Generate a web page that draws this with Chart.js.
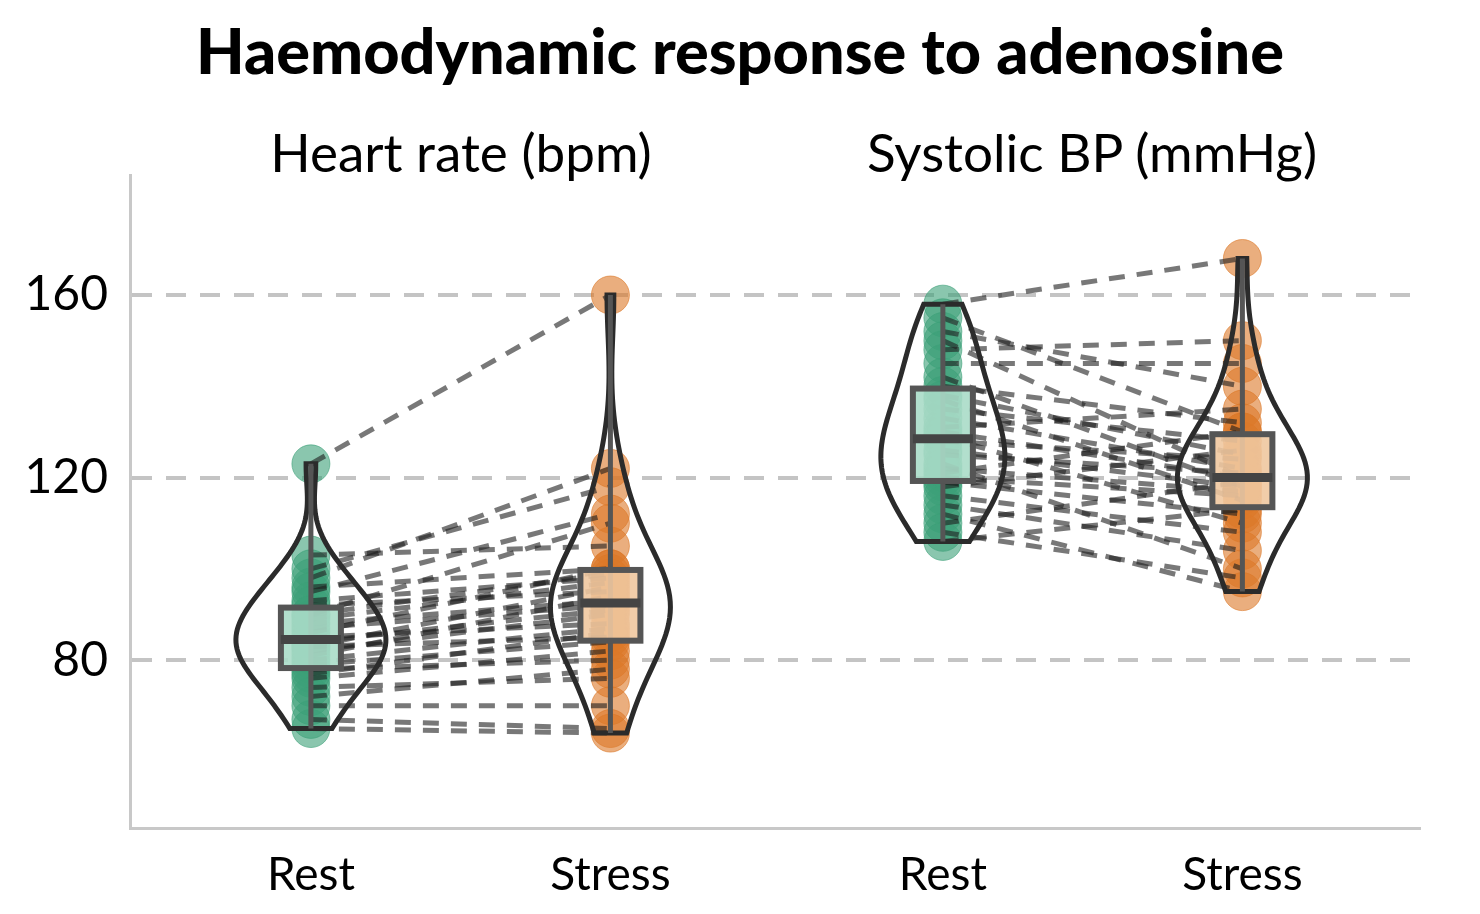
<!DOCTYPE html>
<html><head><meta charset="utf-8">
<script src="https://cdn.jsdelivr.net/npm/chart.js@4.4.1/dist/chart.umd.min.js"></script>
<style>
body{margin:0;background:#fff;font-family:Lato,'Open Sans',sans-serif}
#wrap{position:absolute;left:0;top:0;width:1480px;height:914px}
.t{position:absolute;white-space:nowrap;transform:translateX(-50%);color:#000}
</style></head><body>
<div id="wrap"><canvas id="c"></canvas></div>
<div class="t" style="left:740px;top:12px;font-size:63px;font-weight:900">Haemodynamic response to adenosine</div>
<div class="t" style="left:461px;top:120px;font-size:53px">Heart rate (bpm)</div>
<div class="t" style="left:1092px;top:120px;font-size:53px">Systolic BP (mmHg)</div>
<script>
// group positions on the x axis and their labels
const GROUP_X = [0, 1, 2.11, 3.11];
const GROUP_LABELS = ['Rest', 'Stress', 'Rest', 'Stress'];
const Y_TICKS = [80, 120, 160];

// paired measurements, one entry per patient
const hrRest   = [123,103,100,98,96,95,93,92,90,90,89,88,87,86,85,84,83,83,82,81,80,79,78,77,76,74,72,70,67,65];
const hrStress = [160,105,118,122,100,112,98,95,110,99,97,93,92,100,88,91,96,85,90,94,87,84,80,86,82,76,78,70,65,64];
const bpRest   = [158,155,152,150,148,145,142,140,138,137,135,133,131,130,129,128,126,125,123,121,120,119,118,116,114,112,110,108,106,122];
const bpStress = [168,130,140,120,150,145,118,132,125,115,128,122,135,120,110,124,118,121,100,130,116,112,126,108,104,95,119,98,113,117];

const GROUPS = [
  { x: GROUP_X[0], vals: hrRest,   half: 75, pt: 'rgba(60,160,120,0.6)', box: 'rgba(170,220,200,0.9)' },
  { x: GROUP_X[1], vals: hrStress, half: 60, pt: 'rgba(220,120,40,0.6)', box: 'rgba(240,200,160,0.9)' },
  { x: GROUP_X[2], vals: bpRest,   half: 62, pt: 'rgba(60,160,120,0.6)', box: 'rgba(170,220,200,0.9)' },
  { x: GROUP_X[3], vals: bpStress, half: 65, pt: 'rgba(220,120,40,0.6)', box: 'rgba(240,200,160,0.9)' },
];

const datasets = [];
GROUPS.forEach(g => datasets.push({
  type: 'scatter', data: g.vals.map(v => ({ x: g.x, y: v })),
  backgroundColor: g.pt, borderColor: g.pt, pointRadius: 19, order: 3,
}));
[[0, 1], [2, 3]].forEach(([a, b]) => {
  GROUPS[a].vals.forEach((v, i) => datasets.push({
    type: 'line', data: [{ x: GROUPS[a].x, y: v }, { x: GROUPS[b].x, y: GROUPS[b].vals[i] }],
    borderColor: 'rgba(30,30,30,0.6)', borderWidth: 5, borderDash: [16, 12],
    pointRadius: 0, fill: false, order: 1,
  }));
});

function quantile(arr, q) {
  const s = [...arr].sort((a, b) => a - b);
  const p = (s.length - 1) * q, lo = Math.floor(p);
  return s[lo] + (s[Math.min(lo + 1, s.length - 1)] - s[lo]) * (p - lo);
}

// violin (gaussian KDE, cut at data range) + box
const violinPlugin = {
  id: 'violin',
  afterDatasetsDraw(chart) {
    const { ctx, scales: { x, y } } = chart;
    GROUPS.forEach(g => {
      const n = g.vals.length;
      const mean = g.vals.reduce((a, b) => a + b) / n;
      const sd = Math.sqrt(g.vals.reduce((a, b) => a + (b - mean) ** 2, 0) / (n - 1));
      const bw = 1.06 * sd * Math.pow(n, -0.2);
      const lo = Math.min(...g.vals), hi = Math.max(...g.vals);
      const steps = 80, dens = [];
      for (let i = 0; i <= steps; i++) {
        const v = lo + (hi - lo) * i / steps;
        let d = 0;
        g.vals.forEach(u => d += Math.exp(-0.5 * ((v - u) / bw) ** 2));
        dens.push([v, d]);
      }
      const maxD = Math.max(...dens.map(d => d[1]));
      const cx = x.getPixelForValue(g.x), half = g.half;
      ctx.save();
      ctx.beginPath();
      dens.forEach(([v, d], i) => {
        const px = cx + d / maxD * half, py = y.getPixelForValue(v);
        i ? ctx.lineTo(px, py) : ctx.moveTo(px, py);
      });
      for (let i = dens.length - 1; i >= 0; i--) {
        ctx.lineTo(cx - dens[i][1] / maxD * half, y.getPixelForValue(dens[i][0]));
      }
      ctx.closePath();
      ctx.lineWidth = 5; ctx.strokeStyle = '#2b2b2b'; ctx.stroke();
      // whisker
      ctx.beginPath();
      ctx.moveTo(cx, y.getPixelForValue(lo)); ctx.lineTo(cx, y.getPixelForValue(hi));
      ctx.strokeStyle = '#555'; ctx.lineWidth = 5; ctx.stroke();
      // box
      const q1 = y.getPixelForValue(quantile(g.vals, 0.25));
      const q3 = y.getPixelForValue(quantile(g.vals, 0.75));
      const md = y.getPixelForValue(quantile(g.vals, 0.5));
      ctx.fillStyle = g.box; ctx.fillRect(cx - 30, q3, 60, q1 - q3);
      ctx.strokeStyle = '#555'; ctx.lineWidth = 6; ctx.strokeRect(cx - 30, q3, 60, q1 - q3);
      ctx.beginPath(); ctx.moveTo(cx - 30, md); ctx.lineTo(cx + 30, md);
      ctx.lineWidth = 9; ctx.strokeStyle = '#444'; ctx.stroke();
      ctx.restore();
    });
  },
};

new Chart(document.getElementById('c'), {
  data: { datasets },
  options: {
    responsive: true, maintainAspectRatio: false, animation: false,
    layout: { padding: { top: 175, right: 60, left: 0, bottom: 0 } },
    plugins: { legend: { display: false }, tooltip: { enabled: false } },
    scales: {
      x: {
        type: 'linear', min: -0.604, max: 3.703,
        afterBuildTicks: s => { s.ticks = GROUP_X.map(v => ({ value: v })); },
        afterFit: s => { s.height = 86; },
        ticks: { callback: (v, i) => GROUP_LABELS[i], color: '#000', font: { size: 46, family: 'Lato' }, padding: 12, maxRotation: 0, autoSkip: false },
        grid: { display: false },
        border: { color: '#c8c8c8', width: 3 },
      },
      y: {
        min: 43.2, max: 186.3,
        afterBuildTicks: s => { s.ticks = Y_TICKS.map(v => ({ value: v })); },
        afterFit: s => { s.width = 130; },
        ticks: { color: '#000', font: { size: 48, family: 'Lato' }, padding: 22 },
        grid: { color: '#c4c4c4', lineWidth: 4, drawTicks: false },
        border: { color: '#c8c8c8', width: 3, dash: [20, 14] },
      },
    },
  },
  plugins: [violinPlugin],
});
</script>
</body></html>
